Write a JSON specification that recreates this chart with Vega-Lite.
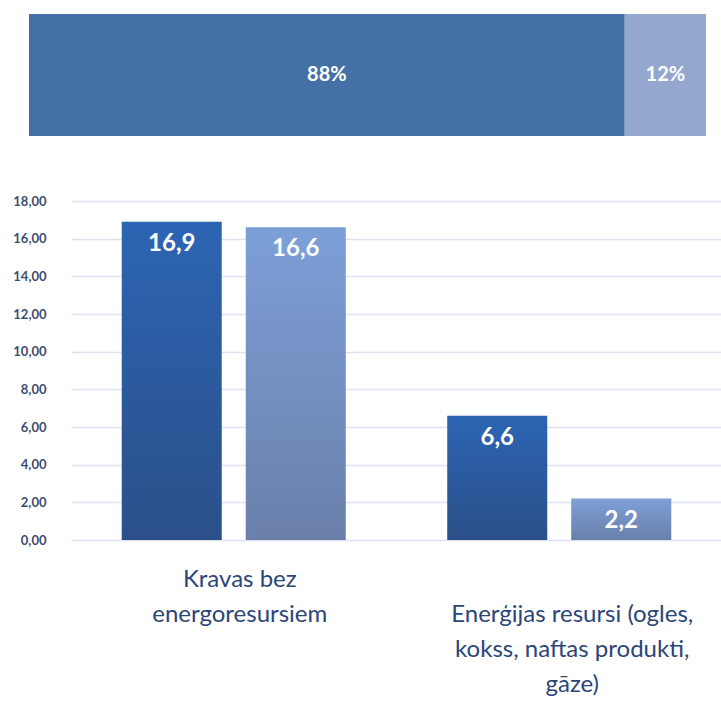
{
  "$schema": "https://vega.github.io/schema/vega-lite/v6.json",
  "background": "white",
  "padding": {"left": 12, "top": 14, "right": 0, "bottom": 0},
  "spacing": 59,
  "config": {"view": {"stroke": null}, "font": "Lato"},
  "vconcat": [
    {
      "width": 635,
      "height": 122,
      "data": {"values": [
        {"part": "A", "share": 88, "label": "88%"},
        {"part": "B", "share": 12, "label": "12%"}
      ]},
      "transform": [
        {"stack": "share", "groupby": [], "sort": [{"field": "part"}], "as": ["s0", "s1"]},
        {"calculate": "(datum.s0 + datum.s1) / 2", "as": "mid"}
      ],
      "encoding": {
        "y": {"datum": "r", "type": "nominal", "scale": {"paddingInner": 0, "paddingOuter": 0}, "axis": null}
      },
      "layer": [
        {
          "mark": {"type": "bar", "clip": false},
          "encoding": {
            "x": {"field": "s0", "type": "quantitative", "scale": {"domain": [6.2038, 100], "nice": false, "zero": false}, "axis": null},
            "x2": {"field": "s1"},
            "color": {"field": "part", "type": "nominal", "scale": {"domain": ["A", "B"], "range": ["#4470a5", "#93a7cf"]}, "legend": null}
          }
        },
        {
          "mark": {"type": "text", "color": "white", "fontWeight": "bold", "fontSize": 20, "font": "Lato"},
          "encoding": {
            "x": {"field": "mid", "type": "quantitative"},
            "text": {"field": "label"}
          }
        }
      ]
    },
    {
      "width": 651,
      "height": 339,
      "data": {"values": [
        {"cat": "Kravas bez energoresursiem", "series": "a", "value": 16.9, "label": "16,9"},
        {"cat": "Kravas bez energoresursiem", "series": "b", "value": 16.6, "label": "16,6"},
        {"cat": "Enerģijas resursi (ogles, kokss, naftas produkti, gāze)", "series": "a", "value": 6.6, "label": "6,6"},
        {"cat": "Enerģijas resursi (ogles, kokss, naftas produkti, gāze)", "series": "b", "value": 2.2, "label": "2,2"}
      ]},
      "encoding": {
        "x": {
          "field": "cat", "type": "nominal", "sort": null,
          "scale": {"paddingInner": 0, "paddingOuter": 0},
          "axis": {
            "title": null, "labelAngle": 0, "domain": false, "ticks": false,
            "labelFont": "Lato", "labelFontSize": 24, "labelColor": "#2b4677", "labelLineHeight": 35,
            "labelBaseline": "top", "labelPadding": 27, "labelLimit": 400,
            "labelOffset": {"condition": {"test": "datum.value === 'Kravas bez energoresursiem'", "value": 6}, "value": 13},
            "labelExpr": "datum.value === 'Kravas bez energoresursiem' ? ['Kravas bez', 'energoresursiem'] : ['', 'Enerģijas resursi (ogles,', 'kokss, naftas produkti,', 'gāze)']"
          }
        },
        "xOffset": {"field": "series", "type": "nominal", "scale": {"paddingInner": 0.1935, "paddingOuter": 0.409}},
        "y": {
          "field": "value", "type": "quantitative",
          "scale": {"domain": [0, 18], "nice": false},
          "axis": {
            "title": null, "values": [0, 2, 4, 6, 8, 10, 12, 14, 16, 18],
            "domain": false, "ticks": false, "labelPadding": 25,
            "labelFont": "Lato", "labelFontSize": 13, "labelFontWeight": "bold", "labelColor": "#3e4d6c",
            "gridColor": "#dde4f1", "gridWidth": 1.5,
            "labelExpr": "replace(format(datum.value, '.2f'), '.', ',')"
          }
        }
      },
      "layer": [
        {
          "transform": [{"filter": "datum.series === 'a'"}],
          "mark": {"type": "bar", "color": {"gradient": "linear", "x1": 0, "y1": 0, "x2": 0, "y2": 1, "stops": [{"offset": 0, "color": "#2c64b3"}, {"offset": 1, "color": "#2b5089"}]}}
        },
        {
          "transform": [{"filter": "datum.series === 'b'"}],
          "mark": {"type": "bar", "color": {"gradient": "linear", "x1": 0, "y1": 0, "x2": 0, "y2": 1, "stops": [{"offset": 0, "color": "#7d9fd8"}, {"offset": 1, "color": "#6a80aa"}]}}
        },
        {
          "mark": {"type": "text", "color": "white", "fontWeight": "bold", "fontSize": 24, "font": "Lato", "baseline": "top", "dy": 10},
          "encoding": {"text": {"field": "label"}}
        }
      ]
    }
  ]
}
